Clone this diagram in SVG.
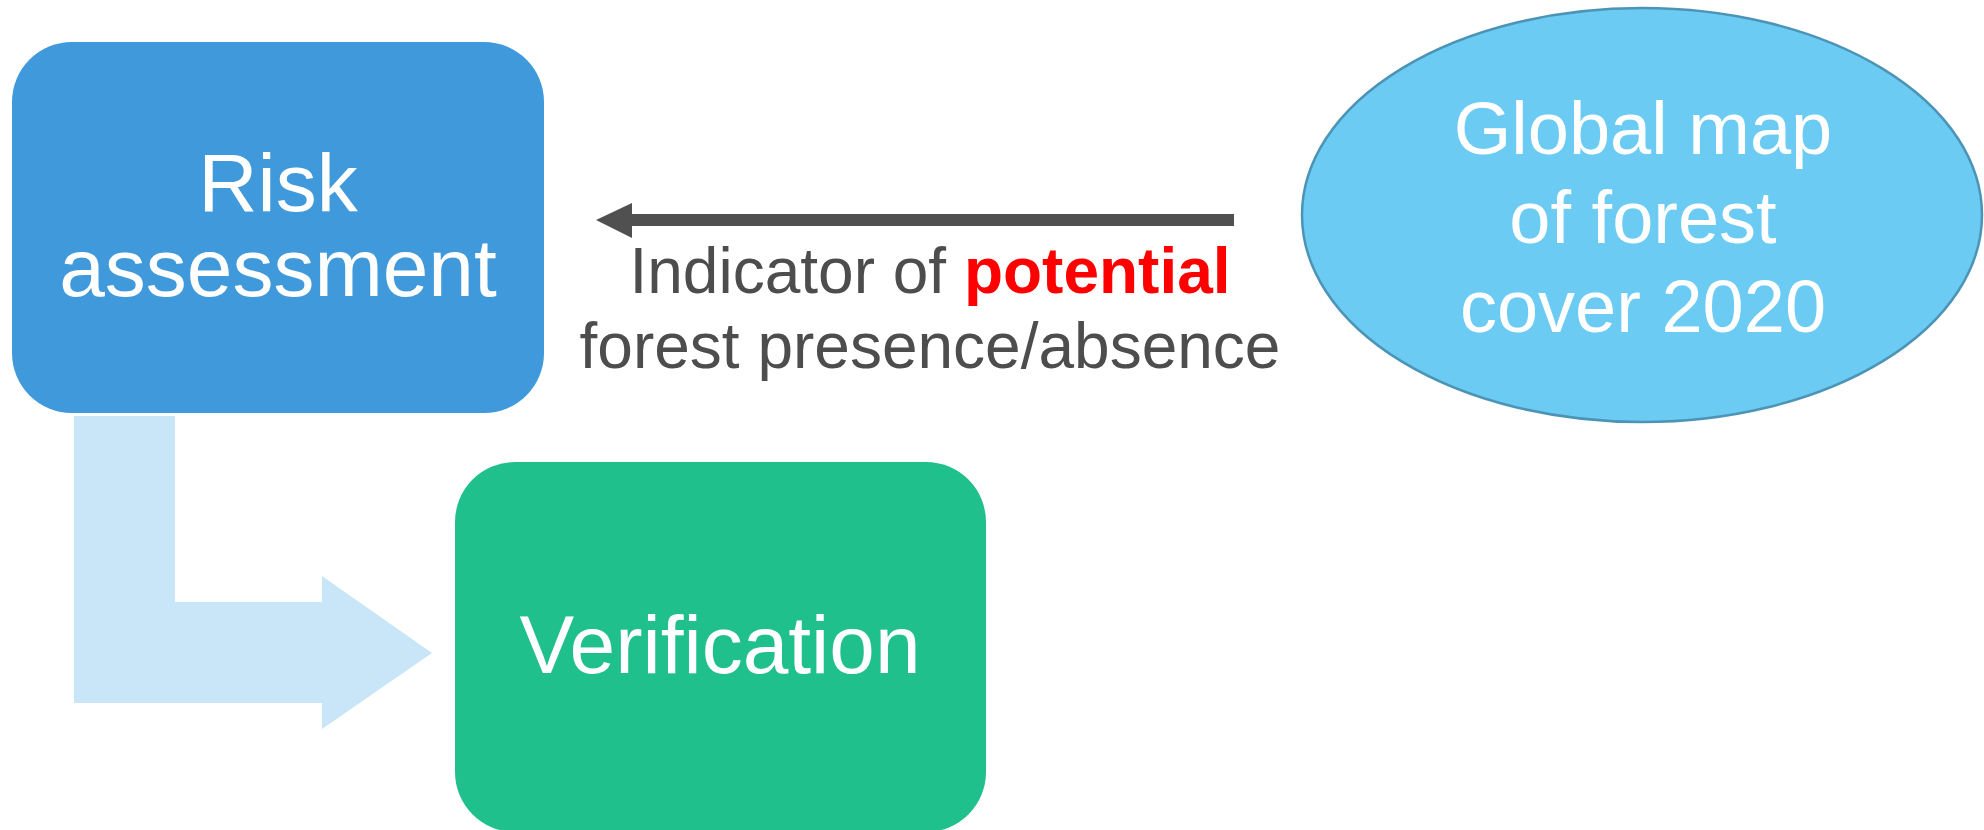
<svg xmlns="http://www.w3.org/2000/svg" width="1984" height="830" viewBox="0 0 1984 830">
<style>
.t{font-family:"Liberation Sans",Arial,sans-serif;text-anchor:middle}
.w{fill:#FFFFFF}
.lab{fill:#4D4D4D;font-size:64px}
</style>
<rect width="1984" height="830" fill="#FFFFFF"/>
<g id="connectors">
<polygon id="bent-arrow" points="74,416 175,416 175,602 322,602 322,576 432,653 322,729 322,703 74,703" fill="#C8E6F7"/>
<g id="map-to-risk">
<rect x="630" y="214" width="604" height="12" fill="#505050"/>
<polygon points="596,220 632,203 632,238" fill="#505050"/>
</g>
<text class="t lab" x="930" y="293">Indicator of <tspan fill="#FF0000" font-weight="bold">potential</tspan></text>
<text class="t lab" x="930" y="368">forest presence/absence</text>
</g>
<g id="risk-assessment">
<rect x="12" y="42" width="532" height="371" rx="60" ry="60" fill="#3F99DA"/>
<text class="t w" x="278" y="211" font-size="82">Risk</text>
<text class="t w" x="278" y="296" font-size="82">assessment</text>
</g>
<g id="verification">
<rect x="455" y="462" width="531" height="370" rx="60" ry="60" fill="#1FC08B"/>
<text class="t w" x="720" y="673" font-size="82">Verification</text>
</g>
<g id="global-map">
<ellipse cx="1642" cy="215" rx="340" ry="207" fill="#6BCBF2" stroke="#4C94B6" stroke-width="2.5"/>
<text class="t w" x="1643" y="154" font-size="74">Global map</text>
<text class="t w" x="1643" y="243" font-size="74">of forest</text>
<text class="t w" x="1643" y="332" font-size="74">cover 2020</text>
</g>
</svg>
